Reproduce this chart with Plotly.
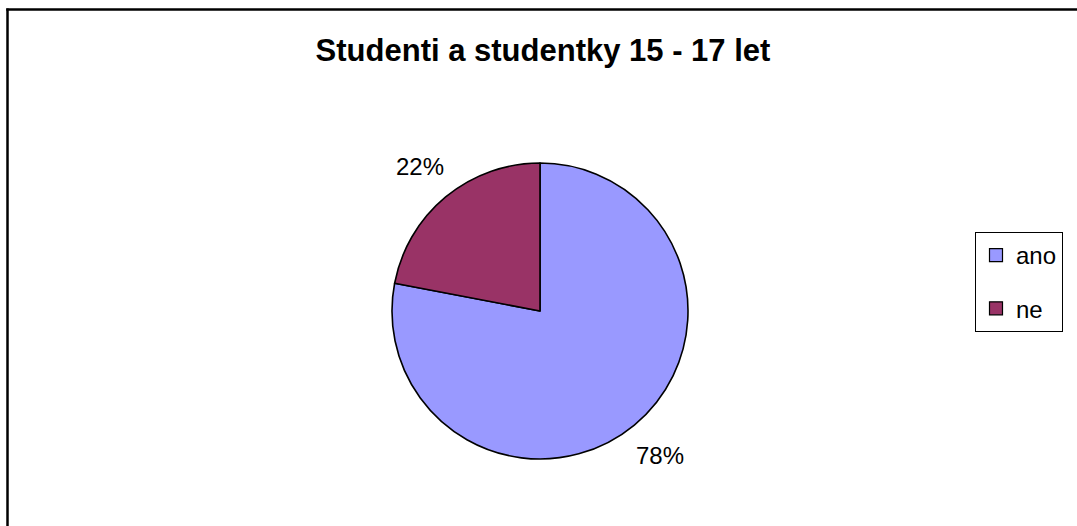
import math
import plotly.graph_objects as go

categories = ["ano", "ne"]
values = [78, 22]
colors = ["#9999FF", "#993366"]
title_text = "Studenti a studentky 15 - 17 let"

W, H = 1077, 526
FONT = "Liberation Sans, Arial, sans-serif"

# pie placement (pixels)
CX, CY, R = 540, 311, 148
dom_x = [(CX - R) / W, (CX + R) / W]
dom_y = [(H - CY - R) / H, (H - CY + R) / H]

fig = go.Figure()
fig.add_trace(go.Pie(
    labels=categories,
    values=values,
    sort=False,
    direction="clockwise",
    rotation=0,
    marker=dict(colors=colors, line=dict(color="black", width=1.6)),
    textinfo="none",
    showlegend=False,
    domain=dict(x=dom_x, y=dom_y),
    hoverinfo="label+percent",
))

# percentage labels placed outside along each slice's mid-angle
total = sum(values)
cum = 0.0
annotations = []
LABEL_R = R * 1.27
for v in values:
    mid = (cum + v / 2) / total * 2 * math.pi
    cum += v
    px = CX + LABEL_R * math.sin(mid)
    py = CY - LABEL_R * math.cos(mid)
    annotations.append(dict(
        x=px / W, y=1 - py / H, xref="paper", yref="paper",
        text=f"{round(v / total * 100)}%", showarrow=False,
        xanchor="center", yanchor="middle",
        font=dict(family=FONT, size=24, color="black"),
    ))

# legend entries
for cat, col in zip(categories, colors):
    fig.add_trace(go.Scatter(
        x=[None], y=[None], mode="markers", name=cat,
        legendgroup=cat,
        marker=dict(symbol="square", size=13, color=col, line=dict(color="black", width=1.2)),
        showlegend=True,
    ))

fig.update_layout(
    width=W, height=H,
    margin=dict(l=0, r=0, t=0, b=0),
    paper_bgcolor="white", plot_bgcolor="white",
    xaxis=dict(visible=False), yaxis=dict(visible=False),
    title=dict(text="<b>" + title_text + "</b>", x=543 / W, xanchor="center",
               y=1 - 50 / H, yanchor="middle",
               font=dict(family=FONT, size=31, color="black")),
    legend=dict(
        x=975 / W, xanchor="left", y=1 - 232 / H, yanchor="top",
        bordercolor="black", borderwidth=1, bgcolor="white",
        font=dict(family=FONT, size=24, color="black"),
        itemwidth=30, tracegroupgap=19, traceorder="grouped",
    ),
    annotations=annotations,
    shapes=[
        dict(type="line", xref="paper", yref="paper", x0=7.5 / W, x1=7.5 / W, y0=0, y1=1 - 8.5 / H,
             line=dict(color="black", width=2.5)),
        dict(type="line", xref="paper", yref="paper", x0=6.25 / W, x1=1, y0=1 - 9.5 / H, y1=1 - 9.5 / H,
             line=dict(color="black", width=2.5)),
    ],
)

fig.write_html("out.html", config={"displayModeBar": False},
               post_script="document.body.style.margin='0';document.body.style.overflow='hidden';")
